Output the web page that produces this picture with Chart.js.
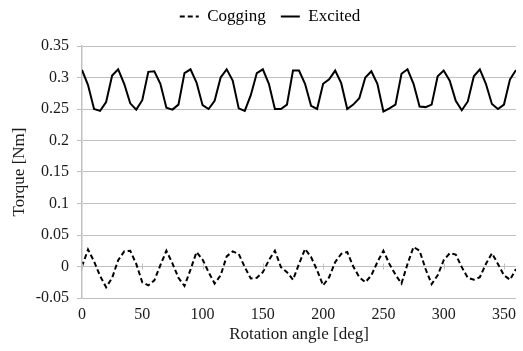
<!DOCTYPE html>
<html>
<head>
<meta charset="utf-8">
<script src="https://cdn.jsdelivr.net/npm/chart.js@4.4.1/dist/chart.umd.min.js"></script>
<style>
  html, body { margin: 0; padding: 0; background: #ffffff; }
  #wrap { width: 523px; height: 351px; }
</style>
</head>
<body>
<div id="wrap"><canvas id="c" width="523" height="351"></canvas></div>
<script>
// Rotation angle [deg]
const angles = [0,5,10,15,20,25,30,35,40,45,50,55,60,65,70,75,80,85,90,95,100,105,110,115,120,125,130,135,140,145,150,155,160,165,170,175,180,185,190,195,200,205,210,215,220,225,230,235,240,245,250,255,260,265,270,275,280,285,290,295,300,305,310,315,320,325,330,335,340,345,350,355,360];

// Cogging torque [Nm]
const cogging = [0.000,0.027,0.008,-0.015,-0.033,-0.018,0.010,0.024,0.025,0.004,-0.025,-0.030,-0.022,0.002,0.025,0.005,-0.018,-0.031,-0.005,0.023,0.011,-0.009,-0.027,-0.014,0.016,0.024,0.020,-0.001,-0.019,-0.018,-0.009,0.010,0.025,-0.001,-0.009,-0.021,0.004,0.028,0.015,-0.006,-0.030,-0.017,0.007,0.020,0.023,0.000,-0.017,-0.025,-0.014,0.007,0.025,0.004,-0.013,-0.027,0.004,0.031,0.025,-0.004,-0.028,-0.014,0.010,0.021,0.019,-0.001,-0.018,-0.021,-0.017,0.004,0.021,0.004,-0.014,-0.021,-0.004];

// Excited torque [Nm]
const excited = [0.312,0.288,0.250,0.247,0.261,0.303,0.313,0.290,0.259,0.249,0.264,0.309,0.310,0.290,0.252,0.249,0.257,0.307,0.313,0.292,0.256,0.250,0.263,0.300,0.313,0.295,0.251,0.247,0.272,0.307,0.313,0.290,0.250,0.250,0.257,0.311,0.311,0.290,0.255,0.250,0.290,0.297,0.311,0.291,0.250,0.257,0.267,0.300,0.310,0.290,0.246,0.251,0.257,0.306,0.313,0.290,0.254,0.253,0.257,0.302,0.311,0.295,0.263,0.248,0.262,0.302,0.313,0.290,0.258,0.250,0.257,0.297,0.312];

const seriesNames = ['Cogging', 'Excited'];
const xTicks = [0, 50, 100, 150, 200, 250, 300, 350];
const yTickLabels = ['-0.05','0','0.05','0.1','0.15','0.2','0.25','0.3','0.35'];

const FONT = 'Liberation Serif';
const GRID = '#c0c0c0';
const TEXT = '#1a1a1a';

Chart.defaults.font.family = FONT;
Chart.defaults.color = TEXT;

function pts(ys) { return angles.map((a, i) => ({ x: a, y: ys[i] })); }

// small tick marks of the horizontal axis, drawn where it crosses y = 0
const zeroAxisTicks = {
  id: 'zeroAxisTicks',
  afterDatasetsDraw(chart) {
    const xs = chart.scales.x, ys = chart.scales.y, ctx = chart.ctx;
    const y0 = ys.getPixelForValue(0);
    ctx.save();
    ctx.strokeStyle = GRID;
    ctx.lineWidth = 1;
    ctx.beginPath();
    xTicks.forEach(v => {
      const px = Math.round(xs.getPixelForValue(v)) + 0.5;
      ctx.moveTo(px, y0 - 3);
      ctx.lineTo(px, y0 + 3);
    });
    ctx.stroke();
    ctx.restore();
  }
};

// place the legend row like the reference (slightly right of centre, near the top)
const legendPlacement = {
  id: 'legendPlacement',
  afterLayout(chart) {
    const lg = chart.legend;
    if (!lg) return;
    lg.left += 18;
    lg.top -= 11;
    lg.bottom -= 11;
  }
};

new Chart(document.getElementById('c'), {
  type: 'line',
  data: {
    datasets: [
      {
        label: seriesNames[0],
        data: pts(cogging),
        borderColor: '#000000',
        backgroundColor: '#000000',
        borderWidth: 2,
        borderDash: [5, 3],
        pointRadius: 0,
        tension: 0,
        fill: false
      },
      {
        label: seriesNames[1],
        data: pts(excited),
        borderColor: '#000000',
        backgroundColor: '#000000',
        borderWidth: 2,
        pointRadius: 0,
        tension: 0,
        fill: false
      }
    ]
  },
  options: {
    responsive: false,
    animation: false,
    devicePixelRatio: 1,
    layout: { padding: { left: 0, right: 1, top: 4, bottom: 0 } },
    plugins: {
      legend: {
        display: true,
        position: 'top',
        labels: {
          usePointStyle: true,
          pointStyle: 'line',
          pointStyleWidth: 19,
          boxHeight: 10,
          padding: 15,
          color: '#000000',
          font: { family: FONT, size: 17 },
          generateLabels(chart) {
            const items = Chart.defaults.plugins.legend.labels.generateLabels(chart);
            items.forEach(it => {
              const ds = chart.data.datasets[it.datasetIndex];
              it.lineDash = ds.borderDash || [];
              it.lineWidth = 2;
              it.strokeStyle = '#000000';
              it.fillStyle = '#000000';
              it.pointStyle = 'line';
              it.fontColor = '#000000';
            });
            return items;
          }
        }
      },
      tooltip: { enabled: false }
    },
    scales: {
      x: {
        type: 'linear',
        min: 0,
        max: 360,
        afterBuildTicks(scale) { scale.ticks = xTicks.map(v => ({ value: v })); },
        afterFit(scale) { scale.height = 53; },
        grid: { display: false, drawTicks: false },
        border: { display: false },
        ticks: {
          padding: 7,
          maxRotation: 0,
          autoSkip: false,
          color: TEXT,
          font: { family: FONT, size: 16 },
          callback: (v) => String(v)
        },
        title: {
          display: true,
          text: 'Rotation angle [deg]',
          color: TEXT,
          font: { family: FONT, size: 17 },
          padding: { top: 0, bottom: 6 }
        }
      },
      y: {
        type: 'linear',
        min: -0.05,
        max: 0.35,
        afterBuildTicks(scale) { scale.ticks = yTickLabels.map(s => ({ value: parseFloat(s) })); },
        afterFit(scale) { scale.width = 82; },
        grid: { color: GRID, lineWidth: 1, drawTicks: true, tickLength: 5, tickColor: GRID },
        border: { display: true, color: GRID, width: 1.5 },
        ticks: {
          padding: 8,
          color: TEXT,
          font: { family: FONT, size: 16 },
          callback: (v) => { const i = yTickLabels.findIndex(s => Math.abs(parseFloat(s) - v) < 1e-9); return i >= 0 ? yTickLabels[i] : ''; }
        },
        title: {
          display: true,
          text: 'Torque [Nm]',
          color: TEXT,
          font: { family: FONT, size: 17 },
          padding: { top: 9, bottom: 0 }
        }
      }
    }
  },
  plugins: [zeroAxisTicks, legendPlacement]
});
</script>
</body>
</html>
